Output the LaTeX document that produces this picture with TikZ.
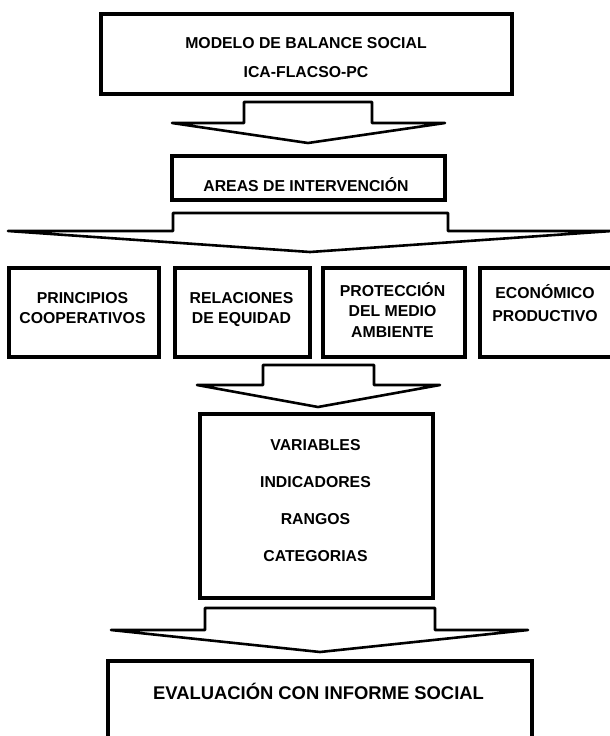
\documentclass[tikz,border=0pt]{standalone}
\usepackage{fontspec}
\setmainfont{Liberation Sans}
\begin{document}
\begin{tikzpicture}[x=1pt,y=-1pt,
  box/.style={draw=black, line width=3.2pt, fill=white, inner sep=0pt, minimum height=#1},
  blockarrow/.style={draw=black, line width=2.6pt, fill=white, line join=round},
  lbl/.style={font=\bfseries\fontsize{15.8}{19}\selectfont, inner sep=0pt, text height=11.4pt, text depth=0pt},
  biglbl/.style={font=\bfseries\fontsize{18.4}{22}\selectfont, inner sep=0pt, text height=13.2pt, text depth=0pt}]
\useasboundingbox (0,0) rectangle (610,736);
\clip (0,0) rectangle (610,736);
\fill[white] (0,0) rectangle (610,736);

% boxes
\node[box=80pt, minimum width=411pt] (b1) at (306.5,54) {};
\node[box=44pt, minimum width=273pt] (b2) at (308.5,178) {};
\node[box=89pt, minimum width=150pt] (ba) at (84,312.5) {};
\node[box=89pt, minimum width=135pt] (bb) at (242.5,312.5) {};
\node[box=89pt, minimum width=142pt] (bc) at (394,312.5) {};
\node[box=89pt, minimum width=134pt] (bd) at (547,312.5) {};
\node[box=184pt, minimum width=233pt] (b3) at (316.5,506) {};
\node[box=80pt, minimum width=424pt] (b4) at (320,701) {};

% block arrows
\draw[blockarrow] (244,123) -- (244,102) -- (372,102) -- (372,123) -- (445,123) -- (308,143) -- (172,123) -- cycle;
\draw[blockarrow] (173,231) -- (173,213) -- (448,213) -- (448,231) -- (612,231) -- (310,252) -- (8,231) -- cycle;
\draw[blockarrow] (263,385) -- (263,365) -- (374,365) -- (374,385) -- (440,385) -- (318,407) -- (197,385) -- cycle;
\draw[blockarrow] (205,630) -- (205,608) -- (435,608) -- (435,630) -- (528,630) -- (320,652) -- (111,630) -- cycle;

% texts
\node[lbl] (t1a) at (306,43) {MODELO DE BALANCE SOCIAL};
\node[lbl] (t1b) at (306,72) {ICA-FLACSO-PC};
\node[lbl] (t2) at (306,186) {AREAS DE INTERVENCIÓN};
\node[lbl] (ta1) at (82.5,298) {PRINCIPIOS};
\node[lbl] (ta2) at (82.5,318) {COOPERATIVOS};
\node[lbl] (tb1) at (241.5,298) {RELACIONES};
\node[lbl] (tb2) at (241.5,318) {DE EQUIDAD};
\node[lbl] (tc1) at (392.5,291) {PROTECCIÓN};
\node[lbl] (tc2) at (392.5,311) {DEL MEDIO};
\node[lbl] (tc3) at (392.5,332) {AMBIENTE};
\node[lbl] (td1) at (545,293) {ECONÓMICO};
\node[lbl] (td2) at (545,316) {PRODUCTIVO};
\node[lbl] (t3a) at (315.5,445) {VARIABLES};
\node[lbl] (t3b) at (315.5,482) {INDICADORES};
\node[lbl] (t3c) at (315.5,519) {RANGOS};
\node[lbl] (t3d) at (315.5,556) {CATEGORIAS};
\node[biglbl] (t4) at (318.5,693) {EVALUACIÓN CON INFORME SOCIAL};
\end{tikzpicture}
\end{document}
